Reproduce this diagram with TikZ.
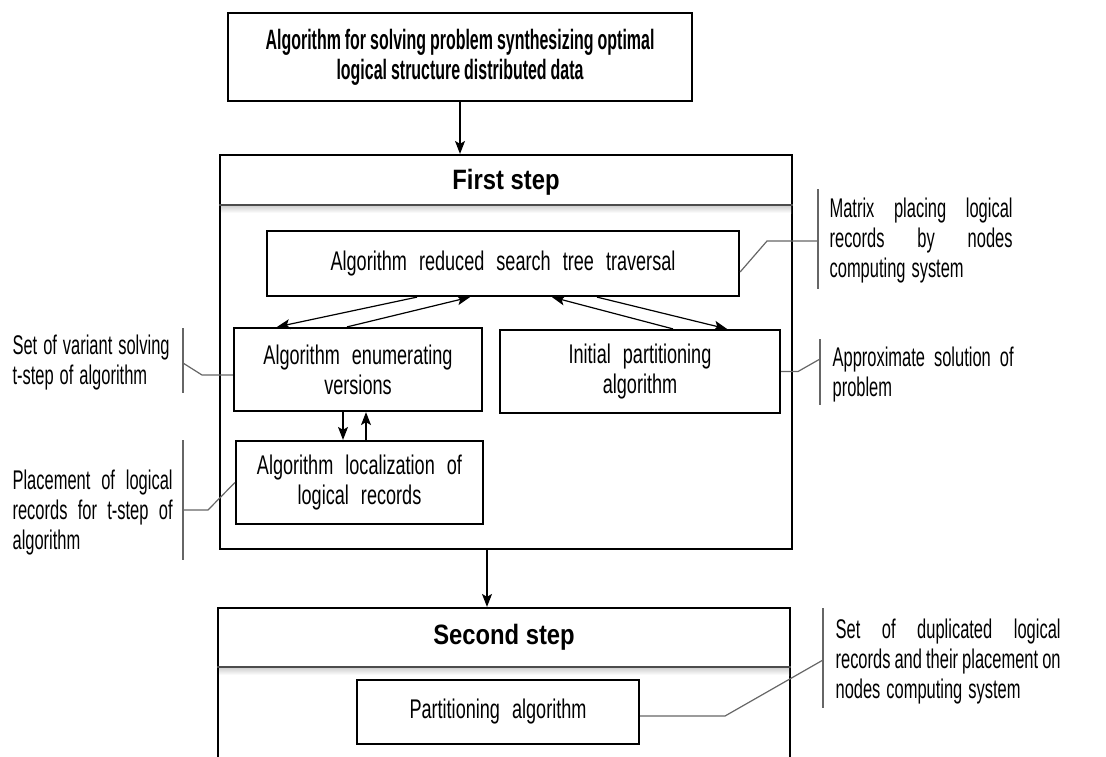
\documentclass[tikz,border=0pt]{standalone}
\usepackage{fontspec}
\setmainfont{Liberation Sans}[FakeStretch=0.61,WordSpace=1.3]
\newfontfamily\boxfont{Liberation Sans}[FakeStretch=0.67,WordSpace=2.4]
\newfontfamily\headfont{Liberation Sans}[FakeStretch=0.57,WordSpace=0.9]
\newfontfamily\stepfont{Liberation Sans}[FakeStretch=0.85]
\usetikzlibrary{arrows, arrows.meta, positioning}

% one justified line of a note
\newcommand{\jline}[2]{\makebox[#1][s]{#2}}

\begin{document}
\begin{tikzpicture}[x=0.5pt,y=-0.5pt,->,>={Stealth[length=6.5pt,width=5pt,inset=1.5pt]},
		line width=0.6pt, font=\fontsize{13.5}{15}\selectfont]

		\tikzset{algo box/.style={draw, line width=1.1pt, align=center, inner sep=2pt,
								  font=\fontsize{13.5}{15}\selectfont\boxfont},
				 step frame/.style={draw, line width=1.1pt},
				 head txt/.style={font=\fontsize{14}{15}\selectfont\stepfont\bfseries},
				 note txt/.style={anchor=west, inner sep=0pt, align=left},
				 note line/.style={-, draw=black!60, line width=0.6pt}}

		\useasboundingbox (0,0) rectangle (1106,756);
		\clip (0,0) rectangle (1106,756);

		\node[algo box, minimum width=232pt, minimum height=44pt,
			  font=\fontsize{14}{15}\selectfont\headfont\bfseries] (top) at (460,57)
			{Algorithm for solving problem synthesizing optimal\\ logical structure distributed data};

		% first step
		\node[step frame, minimum width=286pt, minimum height=197pt] (step1) at (506,352) {};
		\shade[top color=black!20, bottom color=white] (221,205) rectangle (791,213);
		\draw[-, black!70] (step1.west |- 0,205) -- (step1.east |- 0,205);
		\node[head txt] (step1 title) at (506,182) {First step};

		\node[algo box, minimum width=236pt, minimum height=32.5pt] (reduced) at (503,263.5)
			{Algorithm reduced search tree traversal};
		\node[algo box, minimum width=124pt, minimum height=41.5pt] (enum) at (358,369.5)
			{Algorithm enumerating\\ versions};
		\node[algo box, minimum width=140pt, minimum height=41.5pt] (init) at (640,371.5)
			{Initial partitioning\\ algorithm};
		\node[algo box, minimum width=123.5pt, minimum height=41.5pt] (loc) at (359.5,482.5)
			{Algorithm localization of\\ logical records};

		% second step
		\node[step frame, minimum width=286pt, minimum height=81pt] (step2) at (504,689) {};
		\shade[top color=black!20, bottom color=white] (219,667) rectangle (789,675);
		\draw[-, black!70] (step2.west |- 0,667) -- (step2.east |- 0,667);
		\node[head txt] (step2 title) at (504,637) {Second step};

		\node[algo box, minimum width=141pt, minimum height=32pt] (part) at (498,712)
			{Partitioning algorithm};

		% arrows
		\draw (top.south) -- (top.south |- step1.north);
		\draw ([xshift=-9.5pt]step1.south) -- ([xshift=-9.5pt]step1.south |- step2.north);
		\draw ([xshift=-43pt]reduced.south) -- ([xshift=-40.5pt]enum.north);
		\draw ([xshift=-5.5pt]enum.north) -- ([xshift=-16.5pt]reduced.south);
		\draw ([xshift=47pt]reduced.south) -- ([xshift=43.5pt]init.north);
		\draw ([xshift=16.5pt]init.north) -- ([xshift=24.5pt]reduced.south);
		\draw ([xshift=-7.5pt]enum.south) -- ([xshift=-7.5pt]enum.south |- loc.north);
		\draw ([xshift=4pt]enum.south |- loc.north) -- ([xshift=4pt]enum.south);

		% notes
		\node[note txt] (matrix note) at (829,241)
			{\jline{91.5pt}{Matrix placing logical}\\ \jline{91.5pt}{records by nodes}\\ computing system};
		\node[note txt] (approx note) at (832,374.5)
			{\jline{90.5pt}{Approximate solution of}\\ problem};
		\node[note txt] (variant note) at (12,363)
			{Set of variant solving\\ t-step of algorithm};
		\node[note txt] (place note) at (12,512.5)
			{\jline{80pt}{Placement of logical}\\ \jline{80pt}{records for t-step of}\\ algorithm};
		\node[note txt] (dupl note) at (835,661.5)
			{\jline{112.5pt}{Set of duplicated logical}\\ \jline{112.5pt}{records and their placement on}\\ nodes computing system};

		\coordinate (matrix tip) at (818,241);
		\coordinate (approx tip) at (820,359);
		\coordinate (variant tip) at (183,363);
		\coordinate (place tip) at (183,510);
		\coordinate (dupl tip) at (823,660);

		\draw[note line] (818,189) -- (818,289);
		\draw[note line] (820,339) -- (820,405);
		\draw[note line] (183,328) -- (183,393);
		\draw[note line] (183,440) -- (183,560);
		\draw[note line] (823,608) -- (823,708);

		\draw[note line] ([yshift=-4.25pt]reduced.east) -- (767,241) -- (matrix tip);
		\draw[note line] (init.east) -- (798,371.5) -- (approx tip);
		\draw[note line] ([yshift=-2.75pt]enum.west) -- (202,375) -- (variant tip);
		\draw[note line] (loc.west) -- (208,510) -- (place tip);
		\draw[note line] ([yshift=-2pt]part.east) -- (725,716) -- (dupl tip);
\end{tikzpicture}
\end{document}
